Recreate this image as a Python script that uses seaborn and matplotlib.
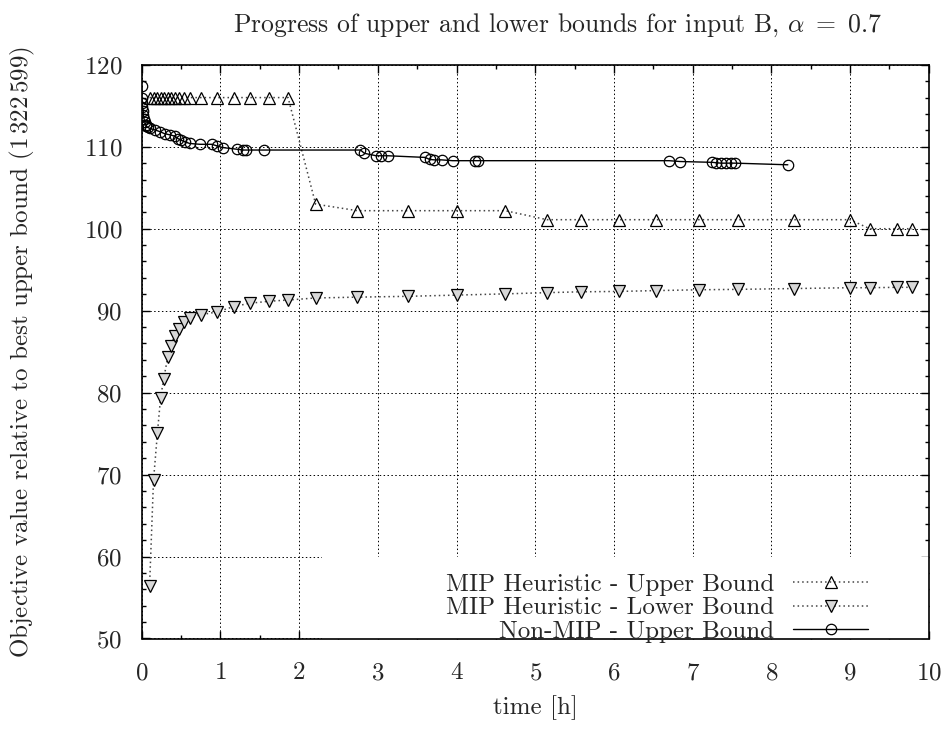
import pandas as pd
import matplotlib
matplotlib.use("Agg")
import matplotlib.pyplot as plt
import seaborn as sns
from matplotlib.patches import Rectangle
from matplotlib.ticker import MultipleLocator

# %%
# MIP heuristic: time stamps shared by upper and lower bound
t_mip = [0.10, 0.15, 0.20, 0.24, 0.28, 0.33, 0.37, 0.42, 0.47, 0.54, 0.62, 0.75,
         0.96, 1.17, 1.37, 1.62, 1.86, 2.21, 2.74, 3.38, 4.00, 4.62, 5.15, 5.58,
         6.07, 6.54, 7.08, 7.58, 8.29, 9.00, 9.25, 9.60, 9.79]
ub_mip = [116.0, 116.0, 116.0, 116.0, 116.0, 116.0, 116.0, 116.0, 116.0, 116.0,
          116.0, 116.0, 116.0, 116.0, 116.0, 116.0, 116.0, 103.0, 102.2, 102.2,
          102.2, 102.2, 101.1, 101.1, 101.1, 101.1, 101.1, 101.1, 101.1, 101.1,
          100.0, 100.0, 100.0]
lb_mip = [56.4, 69.3, 75.1, 79.4, 81.7, 84.3, 85.75, 86.95, 87.8, 88.6, 89.1, 89.5,
          89.85, 90.5, 90.9, 91.15, 91.3, 91.55, 91.65, 91.75, 91.9, 92.05, 92.2,
          92.3, 92.35, 92.45, 92.55, 92.6, 92.7, 92.8, 92.8, 92.85, 92.85]

# non-MIP upper bound
t_nonmip = [0.00, 0.00, 0.01, 0.01, 0.02, 0.02, 0.03, 0.04, 0.05, 0.06, 0.08, 0.10,
            0.17, 0.23, 0.29, 0.36, 0.42, 0.46, 0.50, 0.55, 0.61, 0.74, 0.89, 0.96,
            1.03, 1.21, 1.29, 1.33, 1.56, 2.78, 2.83, 2.98, 3.04, 3.13, 3.60, 3.66,
            3.72, 3.81, 3.95, 4.24, 4.27, 6.70, 6.84, 7.25, 7.30, 7.36, 7.43, 7.49,
            7.54, 8.21]
ub_nonmip = [117.45, 116.0, 115.4, 114.9, 114.4, 113.9, 113.4, 113.0, 112.7, 112.5,
             112.35, 112.25, 112.05, 111.85, 111.6, 111.45, 111.3, 111.0, 110.8,
             110.6, 110.4, 110.3, 110.3, 110.1, 109.9, 109.7, 109.6, 109.6, 109.6,
             109.6, 109.2, 108.9, 108.9, 108.9, 108.7, 108.45, 108.4, 108.4, 108.3,
             108.3, 108.3, 108.3, 108.2, 108.1, 108.05, 108.0, 108.0, 108.0, 108.0,
             107.8]

# %%
sns.set_style("ticks")
plt.rcParams["font.family"] = ["cmr10", "DejaVu Sans"]
plt.rcParams["mathtext.fontset"] = "cm"
plt.rcParams["axes.unicode_minus"] = False
plt.rcParams["axes.formatter.use_mathtext"] = True
fs = 18

fig = plt.figure(figsize=(9.47, 7.31), dpi=100)
ax = fig.add_axes([141.7 / 947, 1 - 638.5 / 731, 787 / 947, 573.7 / 731])

dots = (0, (1, 2))
sns.lineplot(x=t_mip, y=ub_mip, ax=ax, estimator=None, sort=False,
             color="#444444", linestyle=dots, linewidth=1.1,
             marker="^", markersize=8, markerfacecolor="none",
             markeredgecolor="black", markeredgewidth=0.9,
             label="MIP Heuristic - Upper Bound", zorder=3)
sns.lineplot(x=t_mip, y=lb_mip, ax=ax, estimator=None, sort=False,
             color="#444444", linestyle=dots, linewidth=1.1,
             marker="v", markersize=8, markerfacecolor="#d8d8d8",
             markeredgecolor="black", markeredgewidth=0.9,
             label="MIP Heuristic - Lower Bound", zorder=3)
sns.lineplot(x=t_nonmip, y=ub_nonmip, ax=ax, estimator=None, sort=False,
             color="black", linestyle="-", linewidth=1.0,
             marker="o", markersize=7.5, markerfacecolor="none",
             markeredgecolor="black", markeredgewidth=0.9,
             label="Non-MIP - Upper Bound", zorder=3)

ax.set_xlim(0, 10)
ax.set_ylim(50, 120)
ax.xaxis.set_major_locator(MultipleLocator(1))
ax.xaxis.set_minor_locator(MultipleLocator(0.5))
ax.yaxis.set_major_locator(MultipleLocator(10))
ax.yaxis.set_minor_locator(MultipleLocator(2))
ax.tick_params(which="both", direction="in", top=True, right=True,
               labelsize=fs, color="black", width=1.0)
ax.tick_params(axis="x", pad=17)
ax.tick_params(axis="y", pad=14)
ax.tick_params(which="major", length=6)
ax.tick_params(which="minor", length=3)
for sp in ax.spines.values():
    sp.set_linewidth(1.2)
    sp.set_color("black")

ax.grid(True, which="major", color="black", linestyle=(0, (1.5, 2.5)), linewidth=0.7)
ax.set_axisbelow(True)

# key area hides the grid (gnuplot opaque key)
ax.add_patch(Rectangle((0.229, 0.0), 0.771, 0.142, transform=ax.transAxes,
                       facecolor="white", edgecolor="none", zorder=1))

leg = ax.legend(loc="lower right", bbox_to_anchor=((868 - 141.7) / 787, -0.008),
                frameon=False, fontsize=fs, markerfirst=False,
                handlelength=3.0, handletextpad=0.75, labelspacing=0.05,
                borderpad=0, borderaxespad=0)

ax.set_xlabel("time [h]", fontsize=fs)
ax.xaxis.set_label_coords(0.5, -(708 - 638.5) / 573.7)
ax.xaxis.label.set_va("center")
ax.set_ylabel(r"Objective value relative to best upper bound ($1\,322\,599$)", fontsize=fs)
ax.yaxis.set_label_coords(-(141.7 - 22) / 787, 0.5)
ax.yaxis.label.set_va("center")

fig.text(558 / 947, 1 - 25 / 731,
         r"Progress of upper and lower bounds for input B, $\alpha\ =\ 0.7$",
         ha="center", va="center", fontsize=18.5)

plt.savefig("out.png", dpi=100)
